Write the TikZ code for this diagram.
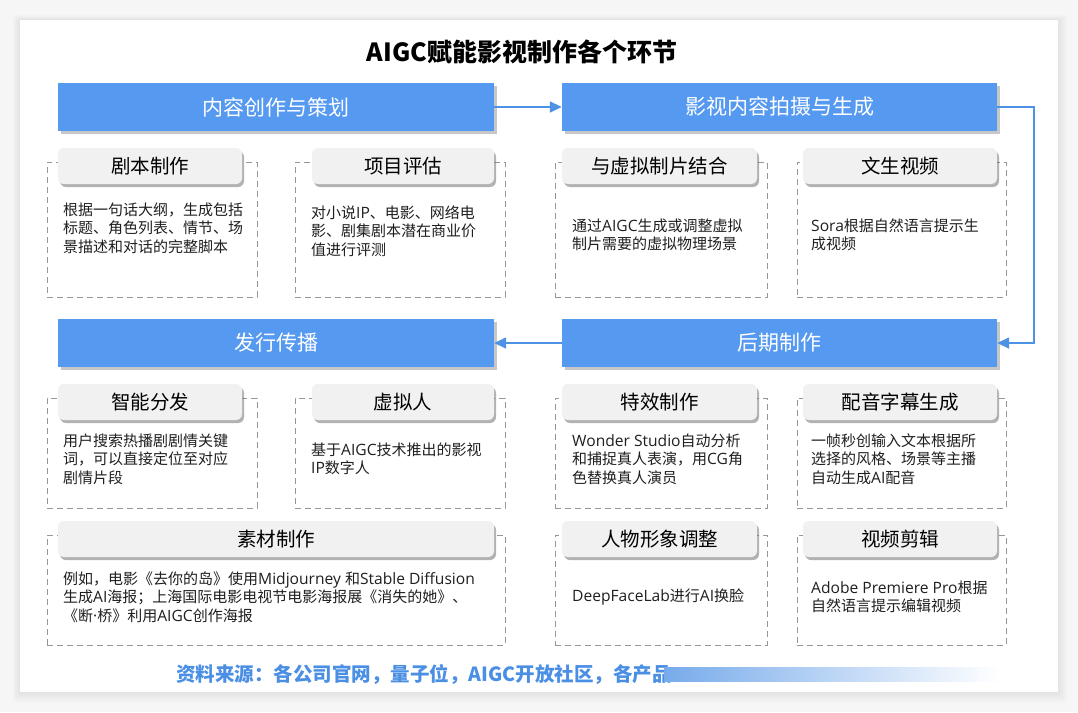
\documentclass[tikz,border=0pt]{standalone}
\usepackage{fontspec}
\setmainfont{Noto Sans CJK SC}
\newfontfamily\lat[Scale=1.04]{Open Sans}
\usetikzlibrary{shadows,arrows.meta}
\definecolor{hdrblue}{RGB}{86,153,240}
\definecolor{lineblue}{RGB}{78,146,230}
\definecolor{srcblue}{RGB}{74,143,228}
\definecolor{tabgray}{RGB}{241,241,241}
\definecolor{dashgray}{RGB}{150,150,150}
\definecolor{outerbg}{RGB}{246,246,246}
\begin{document}
\begin{tikzpicture}[x=1pt,y=-1pt,
  header/.style={fill=hdrblue, text=white, minimum width=436pt, minimum height=48pt, inner sep=0pt,
    font=\fontsize{21}{24}\selectfont,
    drop shadow={shadow xshift=2.5pt,shadow yshift=-3pt,fill=black,opacity=0.22}},
  tabbox/.style={fill=tabgray, rounded corners=6pt, minimum height=36pt, inner sep=0pt,
    font=\fontsize{19.5}{22}\selectfont,
    drop shadow={shadow xshift=2pt,shadow yshift=-3pt,fill=black!60,opacity=0.5}},
  dbox/.style={draw=dashgray, dash pattern=on 6pt off 4pt, line width=0.9pt, inner sep=0pt},
  body/.style={anchor=west, align=left, inner sep=0pt, font=\fontsize{15}{18.5}\selectfont, text=black!88},
  conn/.style={draw=lineblue, line width=1.6pt, -{Triangle[length=12pt,width=11pt]}}
]
\useasboundingbox (0,0) rectangle (1078,712);
\fill[outerbg] (0,0) rectangle (1078,712);
\foreach \i in {1,...,6}
  \fill[black,opacity=0.012,rounded corners=3pt] (20-\i*1.2,20-\i*0.8) rectangle (1058+\i*1.6,692+\i*1.8);
\fill[white] (20,20) rectangle (1058,692);

% title
\node[font=\fontsize{25}{28}\selectfont\bfseries] (title) at (522,52) {AIGC赋能影视制作各个环节};

% headers
\node[header] (h1) at (276,107) {内容创作与策划};
\node[header, minimum width=435pt] (h2) at (779.5,107) {影视内容拍摄与生成};
\node[header] (h3) at (276,343) {发行传播};
\node[header, minimum width=435pt] (h4) at (779.5,343) {后期制作};

% connectors
\draw[conn] (h1.east) -- (h2.west);
\draw[conn] (h2.east) -- ++(37,0) |- (h4.east);
\draw[conn] (h4.west) -- (h3.east);

% dashed boxes row 1
\node[dbox, minimum width=210pt, minimum height=135pt] (d1) at (152,229.5) {};
\node[dbox, minimum width=210pt, minimum height=135pt] (d2) at (400,229.5) {};
\node[dbox, minimum width=212pt, minimum height=135pt] (d3) at (661,229.5) {};
\node[dbox, minimum width=209pt, minimum height=135pt] (d4) at (901.5,229.5) {};
% row 2
\node[dbox, minimum width=210pt, minimum height=110pt] (d5) at (152,453) {};
\node[dbox, minimum width=210pt, minimum height=110pt] (d6) at (400,453) {};
\node[dbox, minimum width=212pt, minimum height=110pt] (d7) at (661,453) {};
\node[dbox, minimum width=209pt, minimum height=110pt] (d8) at (901.5,453) {};
% row 3
\node[dbox, minimum width=458pt, minimum height=110pt] (d9) at (276,590) {};
\node[dbox, minimum width=212pt, minimum height=110pt] (d10) at (661,590) {};
\node[dbox, minimum width=209pt, minimum height=110pt] (d11) at (901.5,590) {};

% tabs
\node[tabbox, minimum width=184pt] (t1) at (150,166) {剧本制作};
\node[tabbox, minimum width=182pt] (t2) at (403,166) {项目评估};
\node[tabbox, minimum width=195pt] (t3) at (659.5,166) {与虚拟制片结合};
\node[tabbox, minimum width=194pt] (t4) at (900,166) {文生视频};
\node[tabbox, minimum width=184pt] (t5) at (150,402) {智能分发};
\node[tabbox, minimum width=182pt] (t6) at (403,402) {虚拟人};
\node[tabbox, minimum width=195pt] (t7) at (659.5,402) {特效制作};
\node[tabbox, minimum width=194pt] (t8) at (900,402) {配音字幕生成};
\node[tabbox, minimum width=436pt] (t9) at (276,539) {素材制作};
\node[tabbox, minimum width=195pt] (t10) at (659.5,539) {人物形象调整};
\node[tabbox, minimum width=194pt] (t11) at (900,539) {视频剪辑};

% body texts
\node[body] (c1) at (63,228) {根据一句话大纲，生成包括\\标题、角色列表、情节、场\\景描述和对话的完整脚本};
\node[body] (c2) at (311,231) {对小说{\lat IP}、电影、网络电\\影、剧集剧本潜在商业价\\值进行评测};
\node[body] (c3) at (572,235) {通过{\lat AIGC}生成或调整虚拟\\制片需要的虚拟物理场景};
\node[body] (c4) at (811,235) {{\lat Sora}根据自然语言提示生\\成视频};
\node[body] (c5) at (63,459) {用户搜索热播剧剧情关键\\词，可以直接定位至对应\\剧情片段};
\node[body] (c6) at (311,459) {基于{\lat AIGC}技术推出的影视\\{\lat IP}数字人};
\node[body] (c7) at (572,459) {{\lat Wonder Studio}自动分析\\和捕捉真人表演，用{\lat CG}角\\色替换真人演员};
\node[body] (c8) at (811,459) {一帧秒创输入文本根据所\\选择的风格、场景等主播\\自动生成{\lat AI}配音};
\node[body] (c9) at (63,597) {例如，电影《去你的岛》使用{\lat Midjourney }和{\lat Stable Diffusion}\\生成{\lat AI}海报；上海国际电影电视节电影海报展《消失的她》、\\《断{\lat ·}桥》利用{\lat AIGC}创作海报};
\node[body] (c10) at (572,597) {{\lat DeepFaceLab}进行{\lat AI}换脸};
\node[body] (c11) at (811,597) {{\lat Adobe Premiere Pro}根据\\自然语言提示编辑视频};

% source
\node[anchor=west, inner sep=0pt, text=srcblue, font=\fontsize{19.5}{22}\selectfont\bfseries] (src) at (176,674) {资料来源：各公司官网，量子位，AIGC开放社区，各产品};
\shade[left color=srcblue!75!white, right color=white] (664,667) rectangle (1000,681);
\end{tikzpicture}
\end{document}
